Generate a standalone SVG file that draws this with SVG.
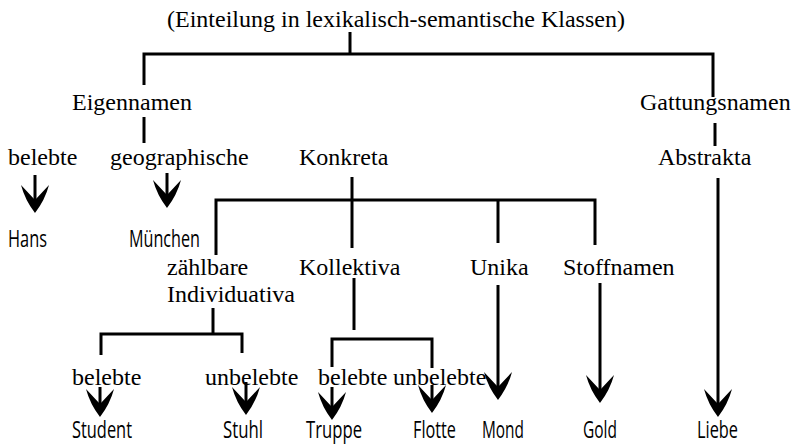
<svg xmlns="http://www.w3.org/2000/svg" width="798" height="444" viewBox="0 0 798 444">
<style>
.s{font-family:"Liberation Serif","Times New Roman",serif;font-size:24px;fill:#000}
.n{font-family:"Open Sans","Liberation Sans",sans-serif;font-size:23px;fill:#000}
.c{fill:none;stroke:#000;stroke-width:3}
</style>
<defs>
<marker id="ah" markerUnits="userSpaceOnUse" markerWidth="30" markerHeight="30" viewBox="-29 -15 30 30" refX="-12" refY="0" orient="auto">
<path d="M0,0 Q-13,-10 -28,-14 L-13,0 L-28,14 Q-13,10 0,0 Z" fill="#000"/>
</marker>
</defs>
<rect width="798" height="444" fill="#fff"/>
<g id="connectors">
<path class="c" d="M350,32 V54"/>
<path class="c" d="M144,85 V54 H713 V97"/>
<path class="c" d="M144,117 V143"/>
<path class="c" d="M715,123 V146"/>
<path class="c" d="M352,177 V200"/>
<path class="c" d="M216,255 V200 H595 V245"/>
<path class="c" d="M352,200 V248"/>
<path class="c" d="M498,200 V243"/>
<path class="c" d="M213,308 V334"/>
<path class="c" d="M101,355 V334 H242 V353"/>
<path class="c" d="M354,278 V330"/>
<path class="c" d="M332,367 V339 H432 V368"/>
<path class="c" d="M35,175 V201" marker-end="url(#ah)"/>
<path class="c" d="M167,173 V196" marker-end="url(#ah)"/>
<path class="c" d="M718,178 V405" marker-end="url(#ah)"/>
<path class="c" d="M100,387 V405" marker-end="url(#ah)"/>
<path class="c" d="M246,382 V403" marker-end="url(#ah)"/>
<path class="c" d="M332,387 V408" marker-end="url(#ah)"/>
<path class="c" d="M432,385 V401" marker-end="url(#ah)"/>
<path class="c" d="M498,285 V388" marker-end="url(#ah)"/>
<path class="c" d="M600,283 V391" marker-end="url(#ah)"/>
</g>
<g id="title"><text class="s" x="167" y="27">(Einteilung in lexikalisch-semantische Klassen)</text></g>
<g id="eigennamen"><text class="s" x="72" y="110">Eigennamen</text></g>
<g id="gattungsnamen"><text class="s" x="640" y="110">Gattungsnamen</text></g>
<g id="belebte1"><text class="s" x="8" y="165">belebte</text></g>
<g id="geographische"><text class="s" x="110" y="165">geographische</text></g>
<g id="konkreta"><text class="s" x="299" y="165">Konkreta</text></g>
<g id="abstrakta"><text class="s" x="658" y="165">Abstrakta</text></g>
<g id="hans"><text class="n" x="8" y="247" textLength="39" lengthAdjust="spacingAndGlyphs">Hans</text></g>
<g id="muenchen"><text class="n" x="129" y="247" textLength="71" lengthAdjust="spacingAndGlyphs">München</text></g>
<g id="zaehlbare"><text class="s" x="167" y="275">zählbare</text><text class="s" x="167" y="302">Individuativa</text></g>
<g id="kollektiva"><text class="s" x="299" y="275">Kollektiva</text></g>
<g id="unika"><text class="s" x="470" y="275">Unika</text></g>
<g id="stoffnamen"><text class="s" x="563" y="275">Stoffnamen</text></g>
<g id="belebte2"><text class="s" x="72" y="385">belebte</text></g>
<g id="unbelebte1"><text class="s" x="205" y="385">unbelebte</text></g>
<g id="belebte3"><text class="s" x="318" y="385">belebte</text></g>
<g id="unbelebte2"><text class="s" x="393" y="385">unbelebte</text></g>
<g id="student"><text class="n" x="72" y="438" textLength="60" lengthAdjust="spacingAndGlyphs">Student</text></g>
<g id="stuhl"><text class="n" x="223" y="438" textLength="40" lengthAdjust="spacingAndGlyphs">Stuhl</text></g>
<g id="truppe"><text class="n" x="306" y="438" textLength="56" lengthAdjust="spacingAndGlyphs">Truppe</text></g>
<g id="flotte"><text class="n" x="413" y="438" textLength="43" lengthAdjust="spacingAndGlyphs">Flotte</text></g>
<g id="mond"><text class="n" x="482" y="438" textLength="42" lengthAdjust="spacingAndGlyphs">Mond</text></g>
<g id="gold"><text class="n" x="583" y="438" textLength="34" lengthAdjust="spacingAndGlyphs">Gold</text></g>
<g id="liebe"><text class="n" x="697" y="438" textLength="41" lengthAdjust="spacingAndGlyphs">Liebe</text></g>
</svg>
